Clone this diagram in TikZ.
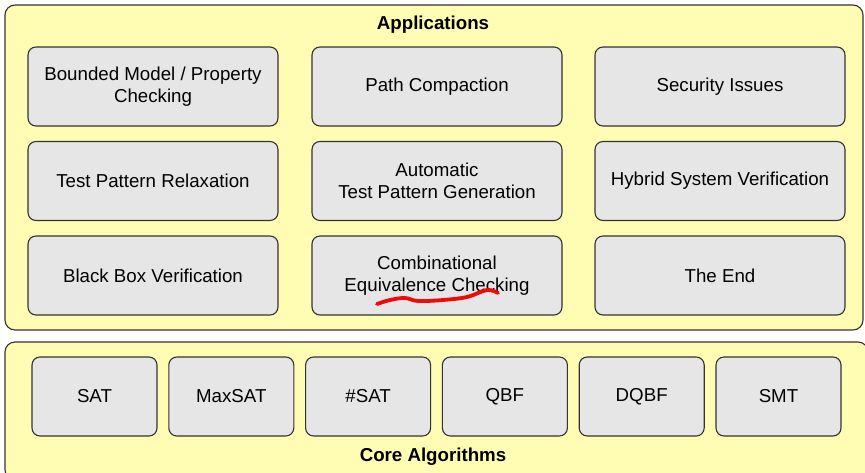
\documentclass[tikz,border=0pt]{standalone}
\usepackage{fontspec}
\setmainfont{Liberation Sans}
\usepackage{xcolor}
\usetikzlibrary{positioning}

\definecolor{panelfill}{HTML}{FFFDB3}
\definecolor{boxfill}{HTML}{E6E6E6}
\definecolor{edgegray}{HTML}{333333}
\definecolor{markred}{HTML}{F00A0A}

\newcommand{\labelsize}{\fontsize{18.7}{22}\selectfont}

\tikzset{
    panel/.style = {draw = edgegray, fill = panelfill, line width = 1.1pt, rounded corners = 10pt},
    appbox/.style = {draw = edgegray, fill = boxfill, line width = 1.1pt, rounded corners = 8pt,
        minimum width = 250pt, minimum height = 79pt, inner sep = 0pt, align = center},
    corebox/.style = {appbox, minimum width = 125pt},
    paneltitle/.style = {font = \labelsize\bfseries}
}

\begin{document}
\begin{tikzpicture}[x = 1pt, y = -1pt, font = \labelsize]
    \useasboundingbox (0, 0) rectangle (865, 472);
    \fill[white] (0, 0) rectangle (865, 472);

    % Panels
    \draw[panel] (5, 5) rectangle (863, 330);
    %
    \draw[panel] (5, 342) rectangle (868, 480);

    \node[paneltitle] (apps) at (433, 25) {Applications};
    %
    \node[paneltitle] (core) at (433, 457) {Core Algorithms};

    % Applications, row by row
    \node[appbox] (bmc) at (153, 86.5) {Bounded Model / Property\\Checking};
    %
    \node[appbox] (pathc) at (437, 86.5) {Path Compaction};
    %
    \node[appbox] (secu) at (720, 86.5) {Security Issues};

    \node[appbox] (tpr) at (153, 181) {Test Pattern Relaxation};
    %
    \node[appbox] (atpg) at (437, 181) {Automatic\\Test Pattern Generation};
    %
    \node[appbox] (hsv) at (720, 181) {Hybrid System Verification};

    \node[appbox] (bbv) at (153, 275.5) {Black Box Verification};
    %
    \node[appbox] (cec) at (437, 275.5) {Combinational\\Equivalence Checking};
    %
    \node[appbox] (theend) at (720, 275.5) {The End};

    % Core algorithms
    \foreach \name/\txt [count = \i from 0] in {sat/SAT, maxsat/MaxSAT, nsat/\#SAT, qbf/QBF, dqbf/DQBF, smt/SMT}
        \node[corebox] (\name) at (94.5 + 136.8*\i, 396.5) {\txt};

    % Red mark under the CEC label
    \draw[markred, line width = 3.8pt, line cap = round, line join = round]
        plot[smooth, tension = 0.6] coordinates {(377, 304) (390, 300) (405, 298) (418, 301) (443, 300) (467, 297) (487, 290) (498, 293)};
\end{tikzpicture}
\end{document}
